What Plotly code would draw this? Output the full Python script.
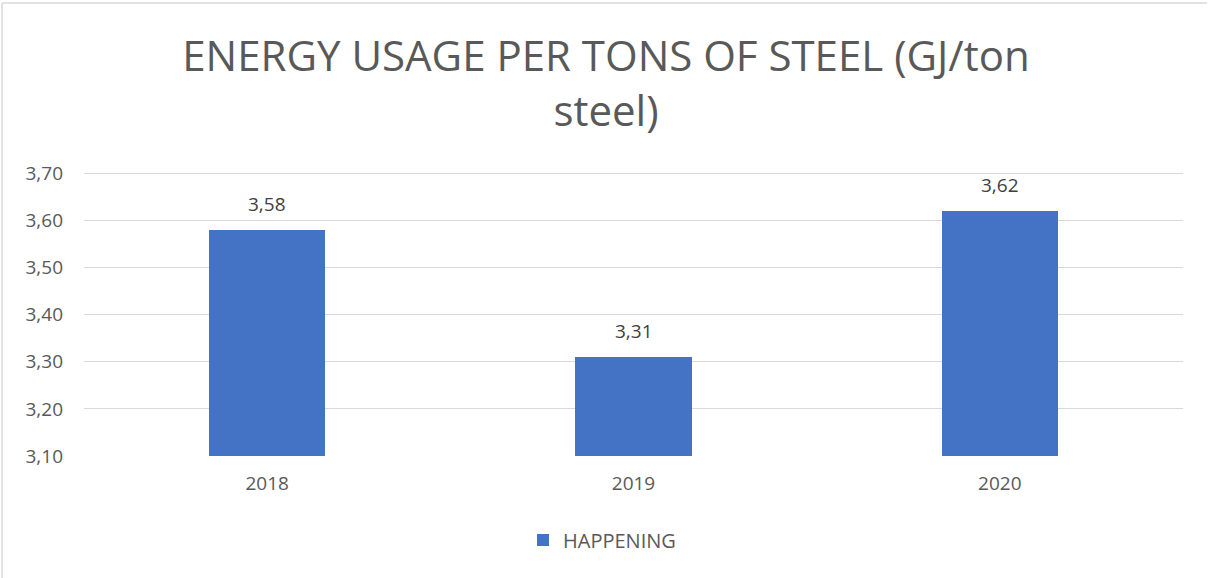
import plotly.graph_objects as go

years = ["2018", "2019", "2020"]
values = [3.58, 3.31, 3.62]
series_name = "HAPPENING"
title_text = "ENERGY USAGE PER TONS OF STEEL (GJ/ton<br>steel)"
y_ticks = [3.10, 3.20, 3.30, 3.40, 3.50, 3.60, 3.70]

W, H = 1208, 578
y_lo, y_hi = 3.10, 3.705
L, R, T, B = 84, 25, 171, 122
pw, ph = W - L - R, H - T - B

fig = go.Figure()
fig.add_trace(go.Bar(
    x=years, y=values, name=series_name,
    marker=dict(color="#4472C4", line=dict(width=0)),
    width=0.317,
))

for i, v in enumerate(values):
    fig.add_annotation(x=i, y=v, text=f"{v:.2f}".replace(".", ","), showarrow=False,
                       yshift=26, font=dict(size=19, color="#404040", family="Open Sans"))

shapes = [
    dict(type="line", xref="paper", yref="paper",
         x0=(2 - L) / pw, x1=(2 - L) / pw, y0=1 + (T - 3) / ph, y1=-(B) / ph,
         line=dict(color="#d9d9d9", width=1.5)),
    dict(type="line", xref="paper", yref="paper",
         x0=(2 - L) / pw, x1=(1207 - L) / pw, y0=1 + (T - 3) / ph, y1=1 + (T - 3) / ph,
         line=dict(color="#d9d9d9", width=1.5)),
]

fig.update_layout(
    width=W, height=H,
    margin=dict(l=L, r=R, t=T, b=B),
    paper_bgcolor="white", plot_bgcolor="white",
    separators=",.",
    title=dict(text=title_text, x=606 / W, xanchor="center", y=1 - 71 / H, yanchor="middle",
               yref="container",
               font=dict(size=42, color="#595959", family="Open Sans")),
    yaxis=dict(range=[y_lo, y_hi], tickvals=y_ticks, tickformat=".2f",
               showgrid=True, gridcolor="#d9d9d9", gridwidth=1,
               zeroline=False, showline=False, ticks="", ticklabelstandoff=20,
               tickfont=dict(size=19, color="#595959", family="Open Sans")),
    xaxis=dict(type="category", range=[-0.5, len(years) - 0.5],
               showgrid=False, zeroline=False, showline=False, ticks="",
               ticklabelstandoff=14,
               tickfont=dict(size=19, color="#595959", family="Open Sans")),
    showlegend=True,
    legend=dict(orientation="h", x=0.5 + (602 - (L + pw / 2)) / pw, xanchor="center",
                y=-(540 - T - ph) / ph, yanchor="middle",
                font=dict(size=20, color="#595959", family="Open Sans")),
    shapes=shapes,
    bargap=0,
)

fig.write_html("out.html")
